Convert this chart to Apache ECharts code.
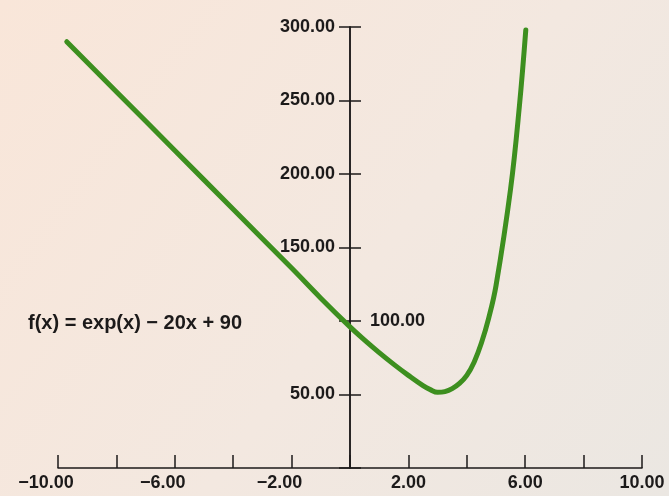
<!DOCTYPE html>
<html>
<head>
<meta charset="utf-8">
<script src="https://cdn.jsdelivr.net/npm/echarts@6/dist/echarts.min.js"></script>
<style>
  html, body { margin: 0; padding: 0; background: #f5e8df; }
  #chart { width: 669px; height: 496px; }
</style>
</head>
<body>
<div id="chart"></div>
<script>
// Values (x, f(x))
const xValues = [-9.7, -8, -6, -4, -2, -1, 0, 0.5, 1, 1.5, 2, 2.5, 2.75, 3, 3.25, 3.5, 3.75, 4, 4.25, 4.5, 4.75, 5, 5.5, 5.8, 6.02];
const yValues = [290, 256, 216, 176, 136, 115.5, 96, 87, 78.5, 70.5, 63, 56, 53.3, 51.5, 52, 54, 57.5, 63, 72, 85, 102, 124, 190, 246, 298];
const xLabeled = [-10, -6, -2, 2, 6, 10];
const yLabeledLeft = [50, 150, 200, 250, 300];
const yLabeledRight = [100];
const formulaText = 'f(x) = exp(x) \u2212 20x + 90';

const ink = '#1c1a1a';
const font = { fontFamily: 'Liberation Sans', fontWeight: 'bold', fontSize: 18, color: ink };

const seriesData = xValues.map((x, i) => [x, yValues[i]]);

const chart = echarts.init(document.getElementById('chart'), null, { renderer: 'canvas' });

function yAxisDef(position, labels, margin) {
  return {
    type: 'value', min: 0, max: 300, interval: 50, position: position, offset: 0,
    axisLine: { show: true, onZero: false, lineStyle: { color: ink, width: 1.5 } },
    axisTick: { show: true, length: 11, lineStyle: { color: ink, width: 1.5 } },
    splitLine: { show: false },
    axisLabel: { margin: margin, ...font, formatter: v => labels.includes(v) ? v.toFixed(2) : '' }
  };
}

chart.setOption({
  animation: false,
  backgroundColor: {
    type: 'linear', x: 0, y: 0, x2: 1, y2: 1,
    colorStops: [
      { offset: 0, color: '#f9e6d9' },
      { offset: 0.55, color: '#f3e8e0' },
      { offset: 1, color: '#ebe7e2' }
    ]
  },
  title: {
    text: formulaText,
    left: 23,
    top: 308,
    textStyle: { fontFamily: 'Liberation Sans', fontWeight: 'bold', fontSize: 20, color: ink }
  },
  grid: { left: 58, right: 27, top: 27, bottom: 28, containLabel: false, outerBoundsMode: 'none' },
  xAxis: {
    type: 'value', min: -10, max: 10, interval: 2,
    axisLine: { onZero: false, lineStyle: { color: ink, width: 1.5 } },
    axisTick: { inside: true, length: 13, lineStyle: { color: ink, width: 1.5 } },
    splitLine: { show: false },
    axisLabel: {
      margin: 6,
      ...font,
      formatter: v => {
        if (!xLabeled.includes(v)) return '';
        const s = Math.abs(v).toFixed(2);
        return v < 0 ? '{neg|\u2212' + s + '}' : s;
      },
      rich: { neg: { ...font, padding: [0, 24, 0, 0] } }
    }
  },
  yAxis: [
    yAxisDef('left', yLabeledLeft, 15),
    yAxisDef('right', yLabeledRight, 20)
  ],
  series: [{
    type: 'line',
    data: seriesData,
    yAxisIndex: 0,
    smooth: 0.4,
    showSymbol: false,
    symbol: 'none',
    lineStyle: { color: '#3d8f1f', width: 5, cap: 'round', join: 'round' }
  }]
});

// Move the y axes onto x = 0, using the library's own x scale.
const rect = chart.getModel().getComponent('grid', 0).coordinateSystem.getRect();
const px0 = chart.convertToPixel({ xAxisIndex: 0 }, 0);
chart.setOption({
  yAxis: [
    { offset: -(px0 - rect.x) },
    { offset: -(rect.x + rect.width - px0) }
  ]
});
</script>
</body>
</html>
